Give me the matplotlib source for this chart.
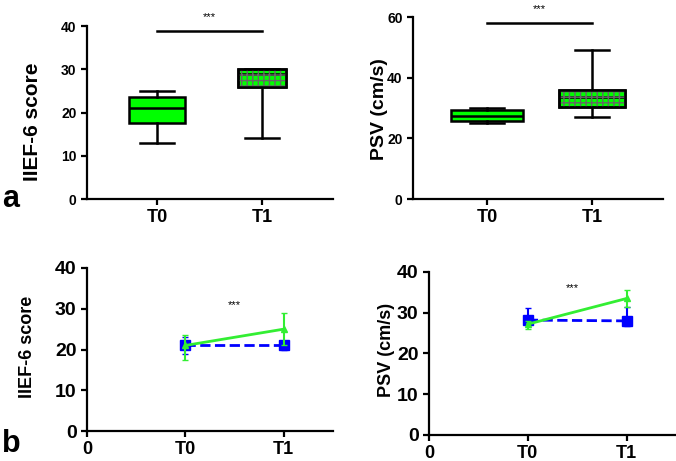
import matplotlib.pyplot as plt
from matplotlib.patches import PathPatch

plt.rcParams['font.family'] = ['Liberation Sans', 'DejaVu Sans']
plt.rcParams['font.weight'] = 'bold'

# ---- data ----
groups = ["T0", "T1"]

# panel a: box plots (min, q1, median, q3, max)
iief_box = {"whislo": [13, 14], "q1": [17.5, 26], "med": [21, 29], "q3": [23.5, 30], "whishi": [25, 30]}
psv_box = {"whislo": [25, 27], "q1": [25.8, 30.5], "med": [27.5, 33.5], "q3": [29.3, 35.8], "whishi": [30, 49]}

# panel b: mean with error bars
iief_green = [21, 25]
iief_green_lo = [3.5, 4]
iief_green_hi = [2.5, 4]
iief_blue = [21, 21]
iief_blue_err = [2, 1]

psv_green = [27.2, 33.5]
psv_green_lo = [1.2, 2]
psv_green_hi = [0.8, 2]
psv_blue = [28.2, 28.0]
psv_blue_lo = [1.2, 1.3]
psv_blue_hi = [3.0, 3.5]

GREEN = "#00ff00"
LINE_GREEN = "#33ee33"
BLUE = "#0000ff"

fig = plt.figure(figsize=(6.76, 4.61), dpi=100)


def style_axes(ax, fs):
    for s in ["top", "right"]:
        ax.spines[s].set_visible(False)
    for s in ["left", "bottom"]:
        ax.spines[s].set_linewidth(1.6)
    ax.tick_params(width=1.6, length=4, labelsize=fs)
    for lab in ax.get_xticklabels() + ax.get_yticklabels():
        lab.set_fontweight("bold")


def box_panel(rect, xmin, box, widths, ymax, yticks, ylabel, ylab_fs, ylab_xy, bar_y, star_y):
    ax = fig.add_axes(rect)
    stats = []
    for i in range(2):
        stats.append({"whislo": box["whislo"][i], "q1": box["q1"][i], "med": box["med"][i],
                      "q3": box["q3"][i], "whishi": box["whishi"][i], "fliers": []})
    bp = ax.bxp(stats, positions=[1, 2], widths=widths, patch_artist=True, showfliers=False,
                boxprops=dict(facecolor=GREEN, edgecolor="black", linewidth=1.8),
                medianprops=dict(color="black", linewidth=1.8),
                whiskerprops=dict(color="black", linewidth=1.8),
                capprops=dict(color="black", linewidth=1.8), capwidths=0.33)
    # checkered fill on T1 box
    b = bp["boxes"][1]
    ax.add_patch(PathPatch(b.get_path(), facecolor="none", edgecolor="#666666", hatch="+++",
                           linewidth=0, zorder=b.get_zorder() + 0.1))
    ax.add_patch(PathPatch(b.get_path(), facecolor="none", edgecolor="black",
                           linewidth=1.8, zorder=b.get_zorder() + 0.2))
    ax.plot([1, 2], [bar_y, bar_y], color="black", lw=1.8, clip_on=False)
    ax.text(1.5, star_y, "***", ha="center", va="center", fontsize=8, fontweight="normal", clip_on=False)
    ax.set_ylim(0, ymax)
    ax.set_yticks(yticks)
    ax.set_xlim(xmin, 2.676)
    ax.set_xticks([1, 2])
    ax.set_xticklabels(groups)
    ax.set_ylabel(ylabel, fontsize=ylab_fs, fontweight="bold")
    ax.yaxis.set_label_coords(*ylab_xy)
    style_axes(ax, 10)
    for lab in ax.get_xticklabels():
        lab.set_fontsize(13)
    return ax


def line_panel(rect, g, g_lo, g_hi, bl, b_lo, b_hi, ylabel, ylab_xy, star_xy):
    ax = fig.add_axes(rect)
    x = [1, 2]
    ax.errorbar(x, g, yerr=[g_lo, g_hi], color=LINE_GREEN, lw=2, marker="^", ms=5,
                capsize=2, elinewidth=1.5, zorder=3)
    ax.errorbar(x, bl, yerr=[b_lo, b_hi], color=BLUE, lw=2, ls="--", marker="s", ms=7,
                capsize=2, elinewidth=1.5, zorder=2)
    ax.text(star_xy[0], star_xy[1], "***", ha="center", va="center", fontsize=8, fontweight="normal")
    ax.set_xlim(0, 2.5)
    ax.set_ylim(0, 40)
    ax.set_yticks([0, 10, 20, 30, 40])
    ax.set_xticks([0, 1, 2])
    ax.set_xticklabels(["0"] + groups)
    ax.set_ylabel(ylabel, fontsize=13, fontweight="bold")
    ax.yaxis.set_label_coords(*ylab_xy)
    style_axes(ax, 14)
    for lab in ax.get_xticklabels():
        lab.set_fontsize(13)
    return ax


box_panel([0.1287, 0.5683, 0.3639, 0.3753], 0.333, iief_box, [0.53, 0.46], 40,
          [0, 10, 20, 30, 40], "IIEF-6 score", 15, (-0.183, 0.445), 38.8, 42.1)
box_panel([0.611, 0.5683, 0.3698, 0.3947], 0.295, psv_box, [0.68, 0.62], 60,
          [0, 20, 40, 60], "PSV (cm/s)", 14, (-0.10, 0.495), 58, 62.5)
line_panel([0.1287, 0.065, 0.3639, 0.3537], iief_green, iief_green_lo, iief_green_hi,
           iief_blue, iief_blue_err, iief_blue_err, "IIEF-6 score", (-0.207, 0.515), (1.5, 31))
line_panel([0.6346, 0.0564, 0.3654, 0.3536], psv_green, psv_green_lo, psv_green_hi,
           psv_blue, psv_blue_lo, psv_blue_hi, "PSV (cm/s)", (-0.137, 0.52), (1.45, 36))

fig.text(0.003, 0.535, "a", fontsize=22, fontweight="bold", va="bottom")
fig.text(0.003, 0.005, "b", fontsize=22, fontweight="bold", va="bottom")

fig.savefig("out.png", dpi=100)
